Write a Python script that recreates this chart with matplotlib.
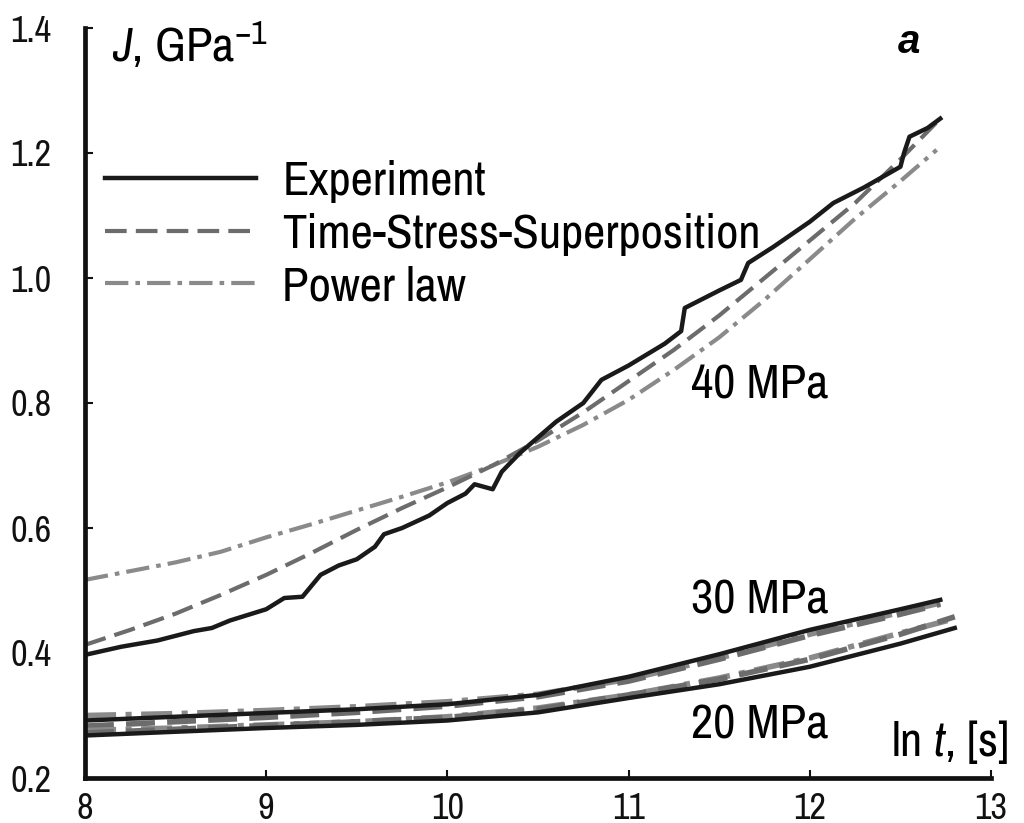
import numpy as np
import matplotlib
matplotlib.use("Agg")
import matplotlib.pyplot as plt

plt.rcParams['font.family'] = ['Archivo Narrow', 'Liberation Sans', 'DejaVu Sans']
plt.rcParams['mathtext.fontset'] = 'custom'
plt.rcParams['mathtext.rm'] = 'Archivo Narrow'
plt.rcParams['mathtext.it'] = 'Archivo Narrow:italic'

# 40 MPa - experiment
x40_exp = [8.0, 8.2, 8.4, 8.6, 8.7, 8.8, 9.0, 9.1, 9.2, 9.3, 9.4, 9.5, 9.6, 9.65, 9.75,
           9.9, 10.0, 10.1, 10.15, 10.25, 10.3, 10.4, 10.5, 10.6, 10.75, 10.85, 11.0,
           11.2, 11.29, 11.31, 11.5, 11.62, 11.66, 11.8, 12.0, 12.13, 12.3, 12.5, 12.52,
           12.55, 12.65, 12.72]
y40_exp = [0.397, 0.41, 0.42, 0.435, 0.44, 0.452, 0.47, 0.488, 0.49, 0.525, 0.54, 0.55,
           0.57, 0.59, 0.60, 0.62, 0.64, 0.655, 0.67, 0.662, 0.69, 0.72, 0.745, 0.77,
           0.80, 0.837, 0.86, 0.895, 0.915, 0.952, 0.98, 0.997, 1.024, 1.05, 1.09, 1.12,
           1.145, 1.178, 1.20, 1.226, 1.24, 1.255]

# 40 MPa - models
x40_tss = [8.0, 8.25, 8.5, 8.75, 9.0, 9.25, 9.5, 9.75, 10.0, 10.25, 10.5, 10.75, 11.0,
           11.25, 11.5, 11.75, 12.0, 12.25, 12.5, 12.72]
y40_tss = [0.413, 0.437, 0.463, 0.493, 0.525, 0.56, 0.597, 0.632, 0.665, 0.70, 0.74,
           0.785, 0.835, 0.885, 0.94, 1.0, 1.06, 1.12, 1.19, 1.255]
x40_pow = [8.0, 8.25, 8.5, 8.75, 9.0, 9.25, 9.5, 9.75, 10.0, 10.25, 10.5, 10.75, 11.0,
           11.25, 11.5, 11.75, 12.0, 12.25, 12.5, 12.7]
y40_pow = [0.517, 0.531, 0.545, 0.562, 0.585, 0.606, 0.628, 0.65, 0.673, 0.70, 0.73,
           0.765, 0.805, 0.853, 0.905, 0.965, 1.03, 1.095, 1.155, 1.205]

# 30 MPa
x30 = [8.0, 8.5, 9.0, 9.5, 10.0, 10.5, 11.0, 11.5, 12.0, 12.5, 12.72]
y30_exp = [0.292, 0.298, 0.304, 0.31, 0.318, 0.333, 0.362, 0.398, 0.437, 0.47, 0.485]
y30_tss = [0.283, 0.29, 0.297, 0.305, 0.315, 0.33, 0.355, 0.39, 0.428, 0.462, 0.478]
y30_pow = [0.30, 0.303, 0.308, 0.314, 0.322, 0.334, 0.358, 0.392, 0.43, 0.465, 0.48]

# 20 MPa
x20 = [8.0, 8.5, 9.0, 9.5, 10.0, 10.5, 11.0, 11.5, 12.0, 12.5, 12.8]
y20_exp = [0.268, 0.274, 0.28, 0.285, 0.292, 0.305, 0.328, 0.35, 0.378, 0.415, 0.44]
y20_tss = [0.272, 0.278, 0.284, 0.29, 0.297, 0.31, 0.333, 0.358, 0.39, 0.43, 0.458]
y20_pow = [0.276, 0.28, 0.285, 0.29, 0.298, 0.312, 0.333, 0.36, 0.392, 0.432, 0.455]

xticks = [8, 9, 10, 11, 12, 13]
yticks = [0.2, 0.4, 0.6, 0.8, 1.0, 1.2, 1.4]

c_exp = '#1a1a1a'
c_tss = '#6c6c6c'
c_pow = '#8a8a8a'
lw = 3.0
dash_tss = (5.2, 2.2)
dash_pow = (5.6, 1.7, 1.1, 1.7)
fs = 35

fig = plt.figure(figsize=(10.24, 8.23), dpi=100)
ax = fig.add_axes([85/1024, 45/823, 906/1024, 750/823])

ax.plot(x40_pow, y40_pow, color=c_pow, lw=lw, dashes=dash_pow, label='Power law')
ax.plot(x40_tss, y40_tss, color=c_tss, lw=lw, dashes=dash_tss, label='Time-Stress-Superposition')
ax.plot(x40_exp, y40_exp, color=c_exp, lw=3.2, label='Experiment')

for xs, ye, yt, yp in [(x30, y30_exp, y30_tss, y30_pow), (x20, y20_exp, y20_tss, y20_pow)]:
    ax.plot(xs, yp, color=c_pow, lw=lw + 1.0, dashes=dash_pow)
    ax.plot(xs, yt, color=c_tss, lw=lw + 1.0, dashes=dash_tss)
    ax.plot(xs, ye, color=c_exp, lw=3.2)

ax.set_xlim(8, 13)
ax.set_ylim(0.2, 1.4)
ax.set_xticks(xticks)
ax.set_yticks(yticks)
ax.set_xticklabels([str(t) for t in xticks])
ax.set_yticklabels(['%.1f' % t for t in yticks])
ax.tick_params(direction='in', length=6, width=1.5, labelsize=26, colors='#111111')
ax.tick_params(axis='y', pad=24)
ax.tick_params(axis='x', pad=10)
for s in ['top', 'right']:
    ax.spines[s].set_visible(False)
for s in ['left', 'bottom']:
    ax.spines[s].set_linewidth(3.4)
    ax.spines[s].set_color('#111111')

handles, labels = ax.get_legend_handles_labels()
order = [2, 1, 0]
leg = ax.legend([handles[i] for i in order], [labels[i] for i in order],
                loc='upper left', bbox_to_anchor=(105/1024, 1 - 160/823),
                bbox_transform=fig.transFigure, frameon=False, fontsize=fs,
                handlelength=3.1, handletextpad=0.55, labelspacing=0.2,
                borderpad=0, borderaxespad=0)

ax.text(8.149, 1.373, r'$\mathit{J}$, GPa$^{\mathrm{-1}}$', fontsize=fs, va='center', ha='left')
ax.text(12.55, 1.378, 'a', fontsize=29, fontweight='bold', fontstyle='italic',
        family=['Liberation Sans', 'DejaVu Sans'], va='center', ha='center')
ax.text(11.343, 0.829, '40 MPa', fontsize=fs, va='center', ha='left')
ax.text(11.343, 0.485, '30 MPa', fontsize=fs, va='center', ha='left')
ax.text(11.343, 0.285, '20 MPa', fontsize=fs, va='center', ha='left')
ax.text(12.45, 0.258, r'ln $\mathit{t}$, [s]', fontsize=fs, va='center', ha='left')

fig.savefig('out.png', dpi=100)
